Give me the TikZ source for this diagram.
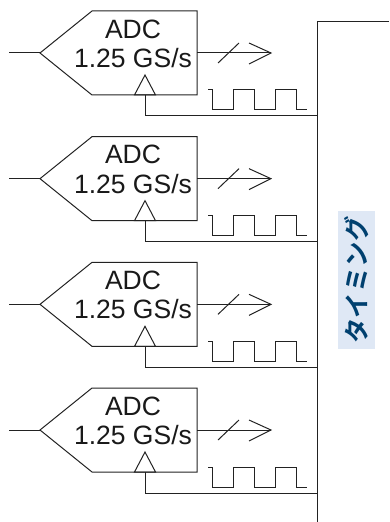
\documentclass[tikz,border=0pt]{standalone}
\usepackage{fontspec}
\setmainfont{Liberation Sans}
\newfontfamily\cjkfont{Noto Sans CJK JP}[BoldFont={Noto Sans CJK JP Bold}]
\definecolor{linecol}{HTML}{222222}
\definecolor{labelbg}{HTML}{DFE8F5}
\definecolor{labelfg}{HTML}{00406F}
\tikzset{
  x=1bp,y=-1bp,
  wire/.style={draw=linecol,line width=1bp,line join=miter},
  adctext/.style={inner sep=0pt,font=\fontsize{26.5bp}{26.5bp}\selectfont,text=black!90},
  timinglabel/.style={fill=labelbg,text=labelfg,rotate=90,minimum width=138bp,minimum height=37bp,inner sep=0pt,
     font=\cjkfont\bfseries\fontsize{25.5bp}{25.5bp}\selectfont},
}
\begin{document}
\begin{tikzpicture}
\useasboundingbox (0,0) rectangle (389,522);
\coordinate (ttop) at (389,22);
\coordinate (tcorner) at (317,22);
\coordinate (tbottom) at (317,522);
\draw[wire] (ttop) -- (tcorner) -- (tbottom);
\node[timinglabel] (timing) at (356.5,280) {タイミング};
\foreach \n/\o in {1/0,2/125.67,3/251.33,4/377}{
  \begin{scope}[yshift=-\o bp]
    \coordinate (in\n) at (9,53);
    \coordinate (tip\n) at (40,53);
    \coordinate (right\n) at (197,53);
    \coordinate (out\n) at (271,53);
    \coordinate (clkb\n) at (145,95);
    \coordinate (clkc\n) at (145,116);
    \coordinate (clkt\n) at (317,116);
    \draw[wire] (tip\n) -- (92,11) -- (197,11) -- (197,95) -- (92,95) -- cycle;
    \draw[wire] (in\n) -- (tip\n);
    \draw[wire] (right\n) -- (out\n);
    \draw[wire] (249,43) -- (out\n) -- (249,64);
    \draw[wire] (218,63) -- (239,43);
    \draw[wire] (134.5,95) -- (145,75) -- (155.5,95) -- cycle;
    \draw[wire] (clkb\n) -- (clkc\n) -- (clkt\n);
    \draw[wire] (208,90) -| (212,110) -| (233,90) -| (254,110) -| (275,90) -| (296,110) -- (307,110);
    \node[adctext] (adca\n) at (133,29) {ADC};
    \node[adctext] (adcb\n) at (133,58) {1.25 GS/s};
  \end{scope}
}
\end{tikzpicture}
\end{document}
